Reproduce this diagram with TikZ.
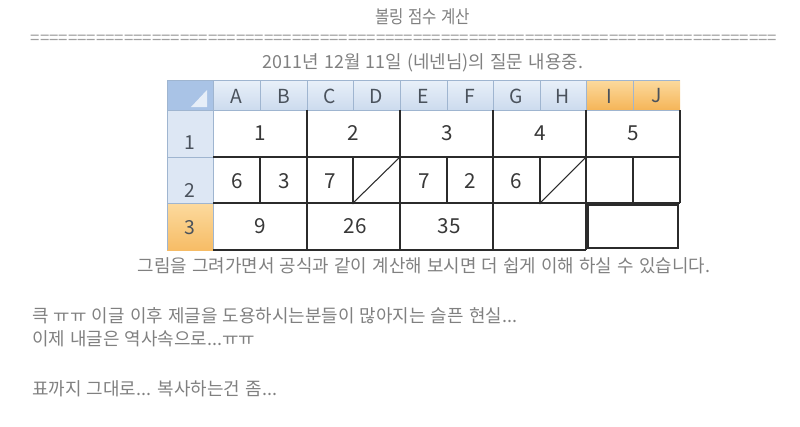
\documentclass[tikz,border=0pt]{standalone}
\usepackage{fontspec}
\usepackage{graphicx}
\setmainfont{Noto Sans CJK KR}[WordSpace=1.3]
\newfontfamily\cellfont{Noto Sans CJK KR}
\newdimen\mypx \mypx=0.75pt
\newcommand\fitw[2]{\resizebox{#1\mypx}{\height}{#2}}
\definecolor{txtgray}{HTML}{808080}
\definecolor{eqgray}{HTML}{A0A0A0}
\definecolor{celltxt}{HTML}{383838}
\definecolor{hdtxt}{HTML}{4A525C}
\definecolor{hdtop}{HTML}{E9F0F9}
\definecolor{hdbot}{HTML}{CCDBEE}
\definecolor{ortop}{HTML}{FCDA9E}
\definecolor{orbot}{HTML}{F5B558}
\definecolor{rowhd}{HTML}{DDE7F4}
\definecolor{corner}{HTML}{A9C3E6}
\definecolor{cornertri}{HTML}{E6EEF8}
\definecolor{hdline}{HTML}{9FB5D0}
\definecolor{gridc}{HTML}{2B2B2B}
\tikzset{
  plain/.style={inner sep=0pt, outer sep=0pt, text=txtgray, font=\fontsize{13.5pt}{15pt}\selectfont},
  lefttext/.style={plain, anchor=west},
  hdlabel/.style={inner sep=0pt, text=hdtxt, font=\cellfont\fontsize{14.5pt}{16pt}\selectfont},
  celllabel/.style={inner sep=0pt, text=celltxt, font=\cellfont\fontsize{15.5pt}{17pt}\selectfont},
  gridline/.style={draw=gridc, line width=1.1pt},
  thinline/.style={draw=hdline, line width=0.75pt},
  diagline/.style={draw=gridc, line width=0.8pt}
}
\begin{document}
\begin{tikzpicture}[x=0.75pt,y=-0.75pt]
\useasboundingbox (0,0) rectangle (800,426);
% texts above
\node[plain] (title) at (422.5,17) {\fitw{95}{볼링 점수 계산}};
\node[plain, text=eqgray] (eqline) at (404,40) {\fitw{746}{================================================================================}};
\node[plain] (date) at (423,63) {\fitw{320}{2011년 12월 11일 (네넨님)의 질문 내용중.}};
% header backgrounds
\shade[top color=hdtop, bottom color=hdbot] (213,80) rectangle (586,110);
\shade[top color=ortop, bottom color=orbot] (586,80) rectangle (680,110);
\fill[corner] (167,80) rectangle (213,110);
\fill[cornertri] (191,107) -- (207,107) -- (207,90) -- cycle;
\fill[rowhd] (167,110) rectangle (213,203);
\shade[top color=ortop, bottom color=orbot!80!ortop] (167,203) rectangle (213,250);
% header lines
\draw[thinline] (167,80) -- (680,80);
\draw[thinline] (167,80) -- (167,250);
\draw[thinline] (167,110) -- (680,110);
\draw[thinline] (213,80) -- (213,250);
\draw[thinline] (167,157) -- (213,157);
\draw[thinline] (167,203) -- (213,203);
\foreach \xx in {260,307,353,400,447,493,540,586,633}
  \draw[thinline] (\xx,81) -- (\xx,110);
% column letters
\foreach \lab/\xx in {A/236.5,B/283.5,C/330,D/376.5,E/423.5,F/470,G/516.5,H/563,I/609.5,J/656.5}
  \node[hdlabel] (col\lab) at (\xx,96) {\lab};
% row numbers
\node[hdlabel] (row1) at (190,143) {1};
\node[hdlabel] (row2) at (190,190) {2};
\node[hdlabel] (row3) at (190,228) {3};
% black grid
\draw[gridline] (213,157) -- (680,157);
\draw[gridline] (213,203) -- (680,203);
\draw[gridline] (213,250) -- (586,250);
\foreach \xx in {307,400,493,586}
  \draw[gridline] (\xx,110) -- (\xx,250);
\draw[gridline] (680,110) -- (680,203);
\foreach \xx in {260,353,447,540,633}
  \draw[gridline] (\xx,157) -- (\xx,203);
\draw[gridline] (588,205) rectangle (678,248);
% diagonals
\draw[diagline] (353,203) -- (400,157);
\fill[gridc] (353,203) circle (1.4) (400,157) circle (1.4);
\draw[diagline] (540,203) -- (586,157);
\fill[gridc] (540,203) circle (1.4) (586,157) circle (1.4);
% cell values
\node[celllabel] (r1a) at (260,133) {1};
\node[celllabel] (r1c) at (353,133) {2};
\node[celllabel] (r1e) at (447,133) {3};
\node[celllabel] (r1g) at (540,133) {4};
\node[celllabel] (r1i) at (633,133) {5};
\node[celllabel] (r2a) at (237,181) {6};
\node[celllabel] (r2b) at (284,181) {3};
\node[celllabel] (r2c) at (330,181) {7};
\node[celllabel] (r2e) at (424,181) {7};
\node[celllabel] (r2f) at (470,181) {2};
\node[celllabel] (r2g) at (516,181) {6};
\node[celllabel] (r3a) at (260,226) {9};
\node[celllabel] (r3c) at (355,226) {26};
\node[celllabel] (r3e) at (449,226) {35};
% texts below
\node[plain] (line1) at (424,266) {\fitw{572}{그림을 그려가면서 공식과 같이 계산해 보시면 더 쉽게 이해 하실 수 있습니다.}};
\node[lefttext] (line2) at (32,316) {\fitw{485}{큭 ㅠㅠ 이글 이후 제글을 도용하시는분들이 많아지는 슬픈 현실...}};
\node[lefttext] (line3) at (32,339) {\fitw{223}{이제 내글은 역사속으로...ㅠㅠ}};
\node[lefttext] (line4) at (32,389) {\fitw{245}{표까지 그대로... 복사하는건 좀...}};
\end{tikzpicture}
\end{document}
